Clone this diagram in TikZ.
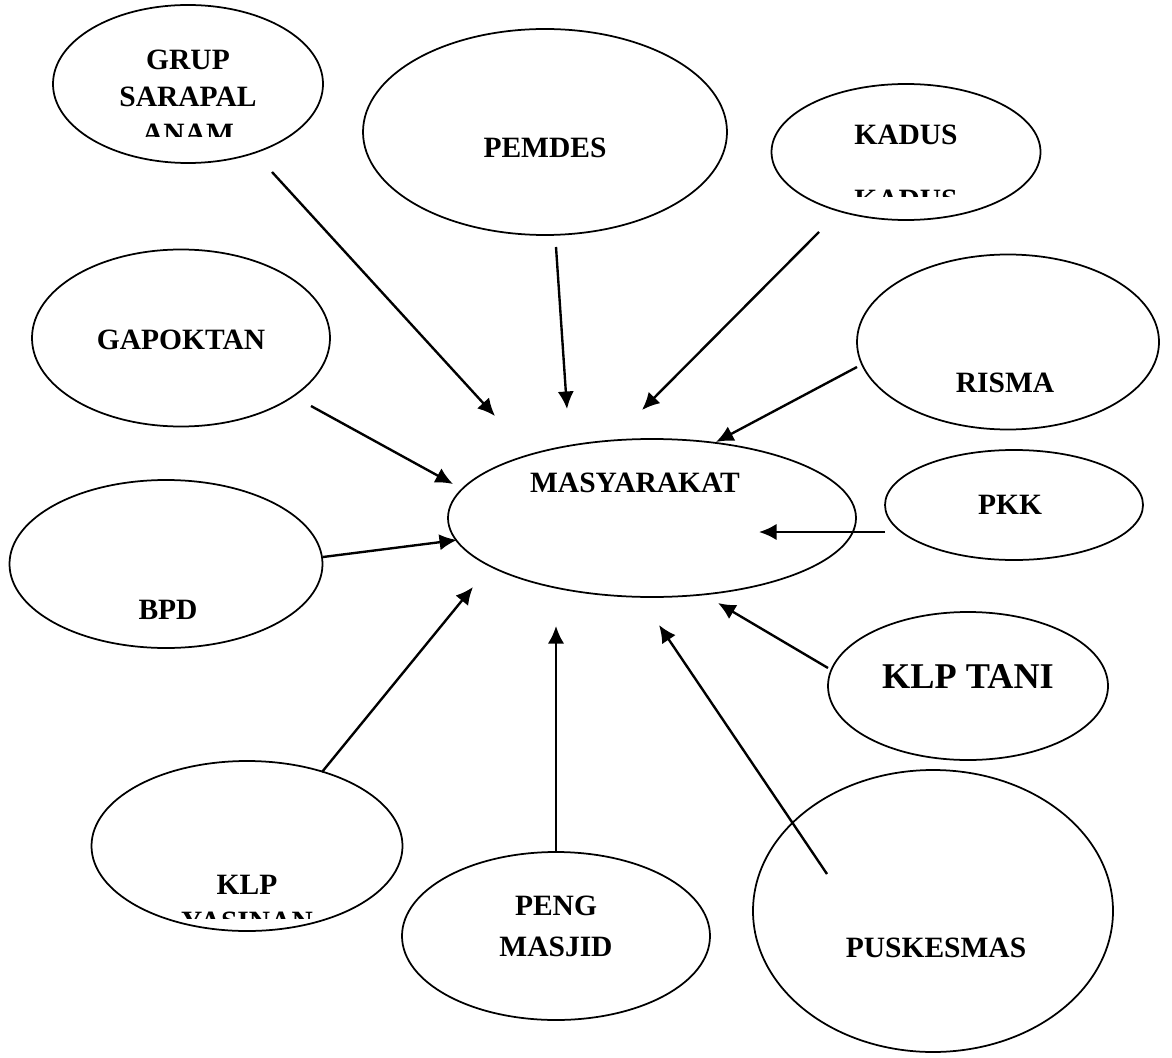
\documentclass[tikz,border=0pt]{standalone}
\usepackage{fontspec}
\setmainfont{Liberation Serif}
\usetikzlibrary{shapes.geometric,arrows.meta}
\tikzset{
bub/.style 2 args={
  ellipse,
  draw,
  line width=0.7pt,
  inner sep=0pt,
  minimum width=#1*0.4pt,
  minimum height=#2*0.4pt
  },
lbl/.style={
  font=\fontsize{11.8}{14.8}\selectfont\bfseries,
  align=center,
  inner sep=0pt
  },
arr/.style={
  -{Latex[length=7pt,width=6.5pt]},
  line width=0.95pt
  }
}
\begin{document}
\begin{tikzpicture}[x=0.4pt,y=-0.4pt]
\useasboundingbox (0,0) rectangle (1172,1058);

% ellipses
\node[bub={270}{158}] (grup) at (188,84) {};
\node[bub={364}{206}] (pemdes) at (545,132) {};
\node[bub={269}{136}] (kadus) at (906,152) {};
\node[bub={302}{175}] (risma) at (1008,342) {};
\node[bub={298}{177}] (gapok) at (181,338) {};
\node[bub={408}{158}] (masy) at (652,518) {};
\node[bub={258}{110}] (pkk) at (1014,505) {};
\node[bub={313}{168}] (bpd) at (166,564) {};
\node[bub={280}{148}] (tani) at (968,686) {};
\node[bub={311}{170}] (yasin) at (247,846) {};
\node[bub={308}{168}] (peng) at (556,936) {};
\node[bub={360}{282}] (pusk) at (933,911) {};

% texts
\begin{scope}
\clip (53,0) rectangle (323,137);
\node[lbl] (grup-t) at (188,97) {GRUP\\SARAPAL\\ANAM};
\end{scope}
\node[lbl] (pemdes-t) at (545,148) {PEMDES};
\node[lbl] (kadus-t) at (906,135) {KADUS};
\begin{scope}
\clip (772,150) rectangle (1042,197);
\node[lbl] (kadus-t2) at (906,200) {KADUS};
\end{scope}
\node[lbl] (risma-t) at (1005,383) {RISMA};
\node[lbl] (gapok-t) at (181,340) {GAPOKTAN};
\node[lbl] (masy-t) at (635,483) {MASYARAKAT};
\node[lbl] (pkk-t) at (1010,505) {PKK};
\node[lbl] (bpd-t) at (168,610) {BPD};
\node[lbl,font=\fontsize{14.5}{17}\selectfont\bfseries]
  (tani-t) at (968,677) {KLP TANI};
\begin{scope}
\clip (92,800) rectangle (402,918);
\node[lbl] (yasin-t) at (247,903) {KLP\\YASINAN};
\end{scope}
\node[lbl] (peng-t) at (556,926) {PENG\\[1.6pt]MASJID};
\node[lbl] (pusk-t) at (936,948) {PUSKESMAS};

% arrow ends
\coordinate (grup-s) at (272,172);
\coordinate (grup-e) at (495,416);
\coordinate (pemdes-s) at (556,247);
\coordinate (pemdes-e) at (567,409);
\coordinate (kadus-s) at (819,232);
\coordinate (kadus-e) at (642,410);
\coordinate (risma-s) at (857,367);
\coordinate (risma-e) at (716,442);
\coordinate (gapok-s) at (311,406);
\coordinate (gapok-e) at (453,484);
\coordinate (pkk-s) at (885,532);
\coordinate (pkk-e) at (759,532);
\coordinate (bpd-s) at (323,557);
\coordinate (bpd-e) at (457,540);
\coordinate (tani-s) at (828,668);
\coordinate (tani-e) at (718,603);
\coordinate (yasin-s) at (322,772);
\coordinate (yasin-e) at (473,587);
\coordinate (peng-s) at (556,851);
\coordinate (peng-e) at (556,626);
\coordinate (pusk-s) at (827,874);
\coordinate (pusk-e) at (659,625);

\draw[arr] (grup-s) -- (grup-e);
\draw[arr] (pemdes-s) -- (pemdes-e);
\draw[arr] (kadus-s) -- (kadus-e);
\draw[arr] (risma-s) -- (risma-e);
\draw[arr] (gapok-s) -- (gapok-e);
\draw[arr] (pkk-s) -- (pkk-e);
\draw[arr] (bpd-s) -- (bpd-e);
\draw[arr] (tani-s) -- (tani-e);
\draw[arr] (yasin-s) -- (yasin-e);
\draw[arr] (peng-s) -- (peng-e);
\draw[arr] (pusk-s) -- (pusk-e);
\end{tikzpicture}
\end{document}
